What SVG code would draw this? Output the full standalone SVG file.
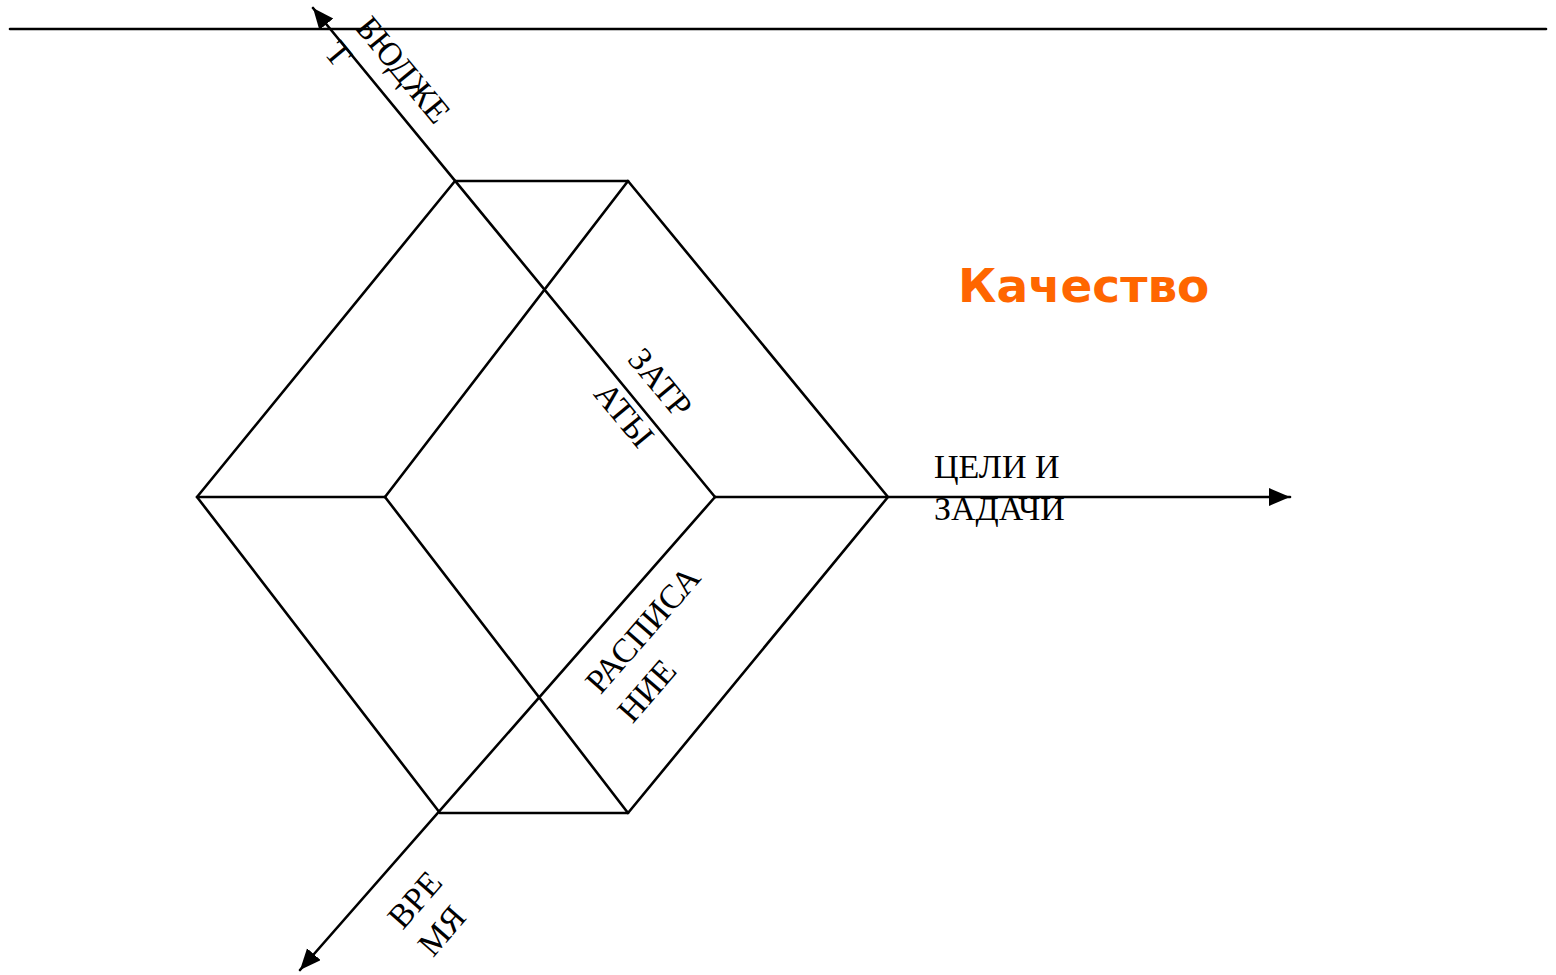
<svg xmlns="http://www.w3.org/2000/svg" width="1556" height="975" viewBox="0 0 1556 975">
<style>
.ln{stroke:#000;stroke-width:2.6;fill:none;stroke-linecap:round;stroke-linejoin:round}
.lbl{font-family:"Liberation Serif","Times New Roman",serif;font-size:34px;fill:#000}
.q{font-family:"DejaVu Sans",Verdana,sans-serif;font-weight:bold;font-size:47px;fill:#FF6600}
</style>
<defs>
<marker id="arr" markerUnits="userSpaceOnUse" markerWidth="24" markerHeight="20" refX="21" refY="9" orient="auto" viewBox="0 0 24 20">
<path d="M0,0 L21,9 L0,18 z" fill="#000"/>
</marker>
</defs>
<rect width="1556" height="975" fill="#fff"/>
<g id="connectors">
<line class="ln" x1="10" y1="29" x2="1546" y2="29"/>
<polyline class="ln" points="197,497 455,181 628,181 888,497 628,813 440,813 197,497"/>
<line class="ln" x1="197" y1="497" x2="385" y2="497"/>
<line class="ln" x1="385" y1="497" x2="628" y2="181"/>
<line class="ln" x1="385" y1="497" x2="628" y2="813"/>
<line class="ln" x1="715" y1="497" x2="313" y2="8" marker-end="url(#arr)"/>
<line class="ln" x1="715" y1="497" x2="1290" y2="497" marker-end="url(#arr)"/>
<line class="ln" x1="715" y1="497" x2="300" y2="970" marker-end="url(#arr)"/>
</g>
<g id="budget">
<text class="lbl" transform="translate(403,70) rotate(50.5)" x="0" y="11" text-anchor="middle">БЮДЖЕ</text>
<text class="lbl" transform="translate(338,54) rotate(50.5)" x="0" y="11" text-anchor="middle">Т</text>
</g>
<g id="costs">
<text class="lbl" transform="translate(660,383) rotate(50.5)" x="0" y="11" text-anchor="middle">ЗАТР</text>
<text class="lbl" transform="translate(624,415) rotate(50.5)" x="0" y="11" text-anchor="middle">АТЫ</text>
</g>
<g id="schedule">
<text class="lbl" transform="translate(643,630) rotate(-49)" x="0" y="11" text-anchor="middle">РАСПИСА</text>
<text class="lbl" transform="translate(647,691) rotate(-49)" x="0" y="11" text-anchor="middle">НИЕ</text>
</g>
<g id="time">
<text class="lbl" transform="translate(415,900) rotate(-49)" x="0" y="11" text-anchor="middle">ВРЕ</text>
<text class="lbl" transform="translate(442,931) rotate(-49)" x="0" y="11" text-anchor="middle">МЯ</text>
</g>
<g id="goals">
<text class="lbl" x="934" y="478">ЦЕЛИ И</text>
<text class="lbl" x="934" y="520">ЗАДАЧИ</text>
</g>
<g id="quality">
<text class="q" x="958" y="302">Качество</text>
</g>
</svg>
